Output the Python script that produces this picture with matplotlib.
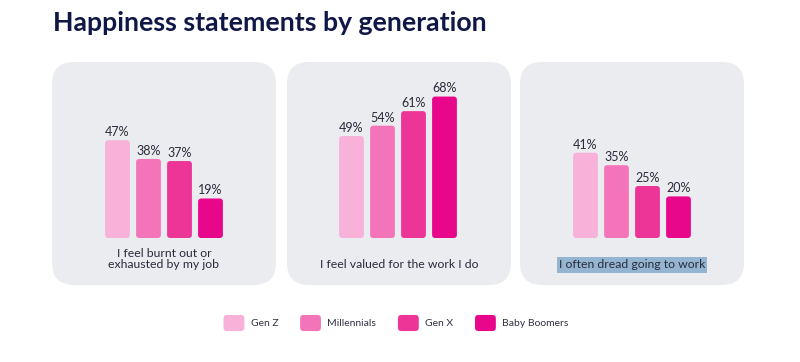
import matplotlib.pyplot as plt
from matplotlib.patches import FancyBboxPatch
from matplotlib.legend_handler import HandlerPatch

generations = ['Gen Z', 'Millennials', 'Gen X', 'Baby Boomers']
colors = ['#f8b2da', '#f474ba', '#ec3597', '#e8078b']
statements = ['I feel burnt out or\nexhausted by my job',
              'I feel valued for the work I do',
              'I often dread going to work']
burnt_out = [47, 38, 37, 19]
valued = [49, 54, 61, 68]
dread = [41, 35, 25, 20]
values = [burnt_out, valued, dread]

plt.rcParams['font.family'] = ['Lato', 'DejaVu Sans']

W, H = 800, 362
fig = plt.figure(figsize=(8, 3.62), dpi=100)
fig.patch.set_facecolor('white')

fig.text(53 / W, 1 - 23 / H, 'Happiness statements by generation', fontsize=19.2,
         fontweight='bold', color='#0f1747', va='center', ha='left')

panel_left = [52, 287, 520]
axes_left = [102, 336, 570]
ax_w, ax_h = 124, 156
ymax = 75


class RoundHandler(HandlerPatch):
    def create_artists(self, legend, orig_handle, xdescent, ydescent, width, height, fontsize, trans):
        p = FancyBboxPatch((-xdescent, -ydescent), width, height,
                           boxstyle='round,pad=0,rounding_size=2.5',
                           facecolor=orig_handle.get_facecolor(), edgecolor='none', transform=trans)
        return [p]


handles = []
for i in range(3):
    # panel background
    bg = FancyBboxPatch((panel_left[i] / W, 1 - 285 / H), 224 / W, 223 / H,
                        boxstyle=f'round,pad=0,rounding_size={22 / W}', mutation_aspect=W / H,
                        transform=fig.transFigure, facecolor='#ebecf0', edgecolor='none', zorder=0)
    fig.patches.append(bg)

    ax = fig.add_axes([axes_left[i] / W, 1 - 238 / H, ax_w / W, ax_h / H], zorder=2)
    ax.set_xlim(-0.5, 3.5)
    ax.set_ylim(0, ymax)
    ax.axis('off')
    ax.patch.set_alpha(0)
    bars = ax.bar(range(4), values[i], width=0.8, color=colors)
    # swap the square bars for rounded ones
    xu = 4 / ax_w
    yu = ymax / ax_h
    for b, c in zip(bars, colors):
        rb = FancyBboxPatch((b.get_x(), b.get_y()), b.get_width(), b.get_height(),
                            boxstyle=f'round,pad=0,rounding_size={3 * xu}', mutation_aspect=yu / xu,
                            facecolor=c, edgecolor='none')
        b.set_visible(False)
        ax.add_patch(rb)
        ax.text(b.get_x() + b.get_width() / 2, b.get_height() + 1.0, f'{int(b.get_height())}%',
                ha='center', va='bottom', fontsize=9, color='#2b2b3a')
    if i == 0:
        handles = [bars[k] for k in range(4)]

    cx = (panel_left[i] + 112) / W
    if i == 2:
        fig.text(cx, 1 - 265 / H, statements[i], ha='center', va='center', fontsize=8.8, color='#2b2b3a',
                 bbox=dict(facecolor='#93b5d2', edgecolor='none', pad=1.5))
    elif i == 0:
        fig.text(cx, 1 - 259 / H, statements[i], ha='center', va='center', fontsize=8.8, color='#2b2b3a',
                 linespacing=0.95)
    else:
        fig.text(cx, 1 - 265 / H, statements[i], ha='center', va='center', fontsize=8.8, color='#2b2b3a')

leg = fig.legend(handles, generations, loc='center', bbox_to_anchor=(0.495, 1 - 323 / H), ncol=4,
                 frameon=False, fontsize=7.5, handlelength=2, handleheight=2, handletextpad=0.6,
                 columnspacing=2.1, handler_map={plt.Rectangle: RoundHandler()})
for t in leg.get_texts():
    t.set_color('#333344')

fig.savefig('out.png', dpi=100, facecolor='white')
